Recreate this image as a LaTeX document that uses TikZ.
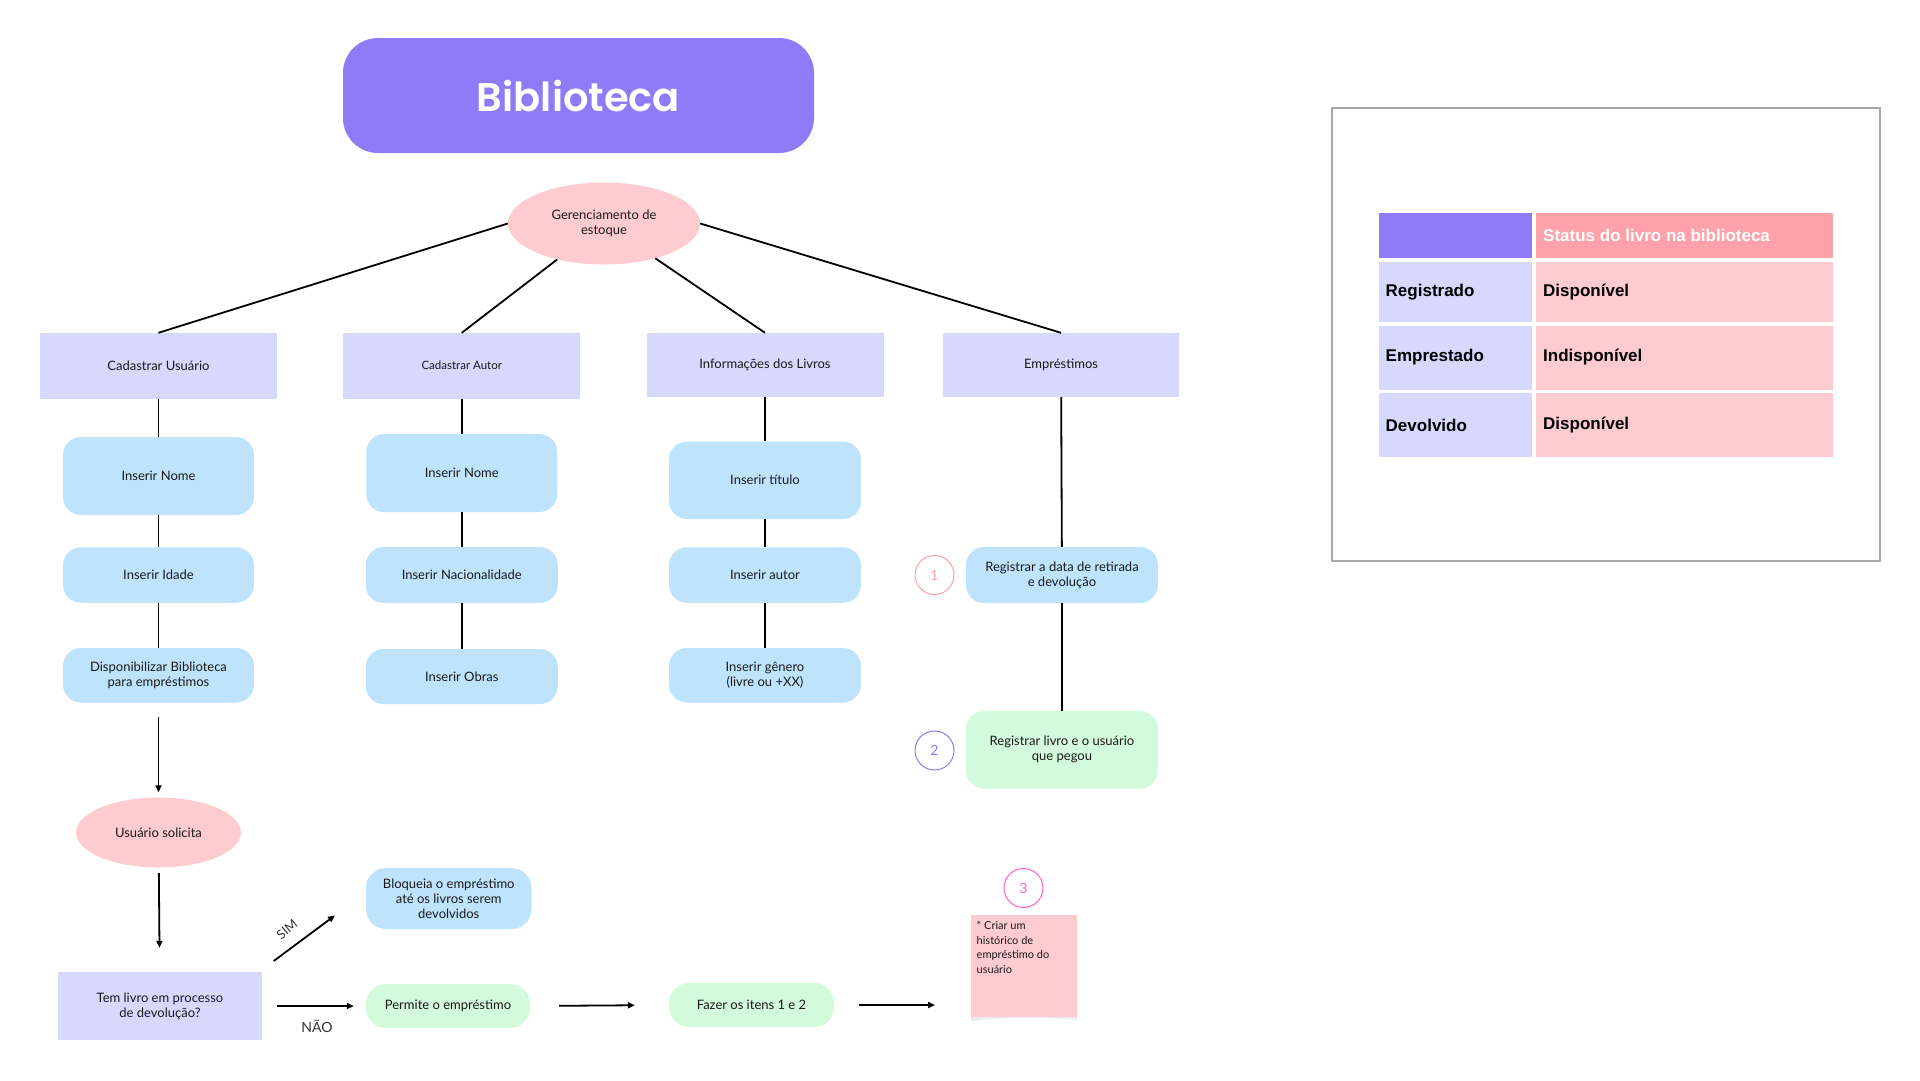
\documentclass[tikz,border=0pt]{standalone}
\usepackage{fontspec}
\setmainfont{Lato}
\newfontfamily\titlefont{Poppins}[UprightFont=* SemiBold]
\newfontfamily\tabfont{Liberation Sans}
\usetikzlibrary{shapes.geometric,arrows.meta}
\definecolor{cpurple}{HTML}{8F7AF8}
\definecolor{clav}{HTML}{D6D8FD}
\definecolor{cblue}{HTML}{BEE3FD}
\definecolor{cpink}{HTML}{FECBD1}
\definecolor{cgreen}{HTML}{D3FADB}
\definecolor{chdr}{HTML}{FFA1AB}
\definecolor{cframe}{HTML}{A8A8A8}
\definecolor{cone}{HTML}{FF9EAB}
\definecolor{ctwo}{HTML}{8A7CF6}
\definecolor{cthree}{HTML}{FF5EC4}
\definecolor{ctext}{HTML}{1A1A1A}
\tikzset{
  body/.style={font=\fontsize{13}{15}\selectfont, text=ctext, align=center, inner sep=0pt},
  catbox/.style={body, rectangle, fill=clav, minimum width=237, minimum height=65},
  bluebox/.style={body, rectangle, rounded corners=18, fill=cblue, minimum width=192, minimum height=55},
  greenbox/.style={body, rectangle, rounded corners=18, fill=cgreen, minimum width=192, minimum height=55},
  pinkell/.style={body, ellipse, fill=cpink},
  ln/.style={draw=black, line width=1.8},
  arr/.style={draw=black, line width=1.8, -{Triangle[length=7, width=6]}},
  numc/.style={circle, draw, line width=1, minimum size=39, inner sep=0pt, font=\fontsize{14}{14}\selectfont},
  cellbox/.style={rectangle, inner sep=0pt, anchor=north west},
  tabtxt/.style={font=\tabfont\bfseries\fontsize{17}{20}\selectfont, inner sep=0pt, anchor=west},
  lbl/.style={font=\fontsize{13}{15}\selectfont, text=black!80, inner sep=0pt}
}
\begin{document}
\begin{tikzpicture}[x=1pt,y=-1pt]
\useasboundingbox (0,0) rectangle (1920,1080);

% title
\node[rectangle, rounded corners=35, fill=cpurple, minimum width=471, minimum height=115, text=white,
  font=\titlefont\fontsize{40}{44}\selectfont, inner sep=0pt] (title) at (578.5,95.5) {Biblioteca};

% root
\node[pinkell, minimum width=192, minimum height=82] (ger) at (604,223.5) {Gerenciamento de\\estoque};

% categories
\node[catbox, minimum height=65.5] (cu) at (158.5,365.75) {Cadastrar Usuário};
\node[catbox, minimum height=65.5, font=\fontsize{11.5}{14}\selectfont] (ca) at (461.75,365.75) {Cadastrar Autor};
\node[catbox, minimum height=64] (il) at (765,365) {Informações dos Livros};
\node[catbox, minimum height=64, minimum width=236] (emp) at (1061,365) {Empréstimos};

\draw[ln] (ger.west) -- (cu.north);
\draw[ln] (ger) -- (ca.north);
\draw[ln] (ger) -- (il.north);
\draw[ln] (ger.east) -- (emp.north);

% column 1
\node[bluebox, minimum width=191, minimum height=78] (n1) at (158.5,476) {Inserir Nome};
\node[bluebox, minimum width=191, minimum height=55.5] (idade) at (158.5,575) {Inserir Idade};
\node[bluebox, minimum width=191, minimum height=54.5] (disp) at (158.5,675.25) {Disponibilizar Biblioteca\\para empréstimos};
\draw[ln] (cu) -- (n1);
\draw[ln] (n1) -- (idade);
\draw[ln] (idade) -- (disp);

% column 2
\node[bluebox, minimum width=191, minimum height=78] (n2) at (461.75,473) {Inserir Nome};
\node[bluebox, minimum height=56] (nac) at (461.75,575) {Inserir Nacionalidade};
\node[bluebox, minimum height=55] (obras) at (461.75,676.5) {Inserir Obras};
\draw[ln] (ca) -- (n2);
\draw[ln] (n2) -- (nac);
\draw[ln] (nac) -- (obras);

% column 3
\node[bluebox, minimum height=77.5] (tit) at (765,480.25) {Inserir título};
\node[bluebox, minimum height=55.5] (autor) at (765,575) {Inserir autor};
\node[bluebox, minimum height=54.5] (gen) at (765,675.25) {Inserir gênero\\(livre ou +XX)};
\draw[ln] (il) -- (tit);
\draw[ln] (tit) -- (autor);
\draw[ln] (autor) -- (gen);

% column 4
\node[bluebox, minimum height=56] (reg1) at (1062,575) {Registrar a data de retirada\\e devolução};
\node[greenbox, minimum height=77.6] (reg2) at (1062,749.8) {Registrar livro e o usuário\\que pegou};
\draw[ln] (emp) -- (reg1);
\draw[ln] (reg1) -- (reg2);

\node[numc, draw=cone, text=cone] (c1) at (934.5,575) {1};
\node[numc, draw=ctwo, text=ctwo] (c2) at (934.5,750.5) {2};

% flow
\node[pinkell, minimum width=165, minimum height=70] (usr) at (158.5,832.5) {Usuário solicita};
\node[catbox, minimum width=204, minimum height=68] (tem) at (160,1006) {Tem livro em processo\\de devolução?};
\node[bluebox, rounded corners=20, minimum width=165.5, minimum height=61] (bloq) at (448.75,898.5) {Bloqueia o empréstimo\\até os livros serem\\devolvidos};
\node[greenbox, rounded corners=20, minimum width=164, minimum height=44] (perm) at (448,1006) {Permite o empréstimo};
\node[greenbox, rounded corners=20, minimum width=165, minimum height=44] (fazer) at (751.5,1005) {Fazer os itens 1 e 2};

\draw[arr, shorten <=14, shorten >=5] (disp) -- (usr);
\draw[arr, shorten <=5.5, shorten >=24] (usr) -- (tem);

\coordinate (simA) at (273.7,961);
\coordinate (simB) at (335,915.4);
\draw[arr] (simA) -- (simB);
\node[lbl, rotate=40] (simlbl) at (287,929.6) {SIM};

\draw[arr, shorten <=15, shorten >=12] (tem.east) -- (perm.west);
\node[lbl, font=\fontsize{14}{16}\selectfont] (naolbl) at (317,1026) {NÃO};

\draw[arr, shorten <=29, shorten >=34] (perm.east) -- (fazer.west);

% note
\fill[black!8] (971,1016) -- (1077,1016) -- (1077,1020) .. controls (1050,1017) and (1000,1017) .. (971,1021) -- cycle;
\node[rectangle, fill=cpink, minimum width=105.7, minimum height=102, inner sep=0pt, anchor=north west] (note) at (971,915) {};
\node[font=\fontsize{11}{14.5}\selectfont, text=ctext, align=left, inner sep=0pt, anchor=north west] (notetxt) at (976.5,921.5) {* Criar um\\histórico de\\empréstimo do\\usuário};
\draw[arr, shorten <=25, shorten >=36] (fazer.east) -- (fazer.east -| note.west);
\node[numc, draw=cthree, text=cthree] (c3) at (1023.5,888) {3};

% table frame
\draw[cframe, line width=1.5] (1332,108) rectangle (1880,561);
\node[cellbox, fill=cpurple, minimum width=153, minimum height=45] (h1) at (1379,212.5) {};
\node[cellbox, fill=chdr, minimum width=296.5, minimum height=45] (h2) at (1536,212.5) {};
\node[cellbox, fill=clav, minimum width=153, minimum height=60] (r1a) at (1379,261.7) {};
\node[cellbox, fill=cpink, minimum width=296.5, minimum height=60] (r1b) at (1536,261.7) {};
\node[cellbox, fill=clav, minimum width=153, minimum height=64] (r2a) at (1379,325.5) {};
\node[cellbox, fill=cpink, minimum width=296.5, minimum height=64] (r2b) at (1536,325.5) {};
\node[cellbox, fill=clav, minimum width=153, minimum height=64] (r3a) at (1379,393) {};
\node[cellbox, fill=cpink, minimum width=296.5, minimum height=64] (r3b) at (1536,393) {};

\node[tabtxt, text=white] (th) at (1543,235) {Status do livro na biblioteca};
\node[tabtxt] (t1a) at (1385.5,291.7) {Registrado};
\node[tabtxt] (t1b) at (1543,291.7) {Disponível};
\node[tabtxt] (t2a) at (1385.5,357.5) {Emprestado};
\node[tabtxt] (t2b) at (1543,357.5) {Indisponível};
\node[tabtxt] (t3a) at (1385.5,425.5) {Devolvido};
\node[tabtxt] (t3b) at (1543,425.5) {Disponível};
\end{tikzpicture}
\end{document}
